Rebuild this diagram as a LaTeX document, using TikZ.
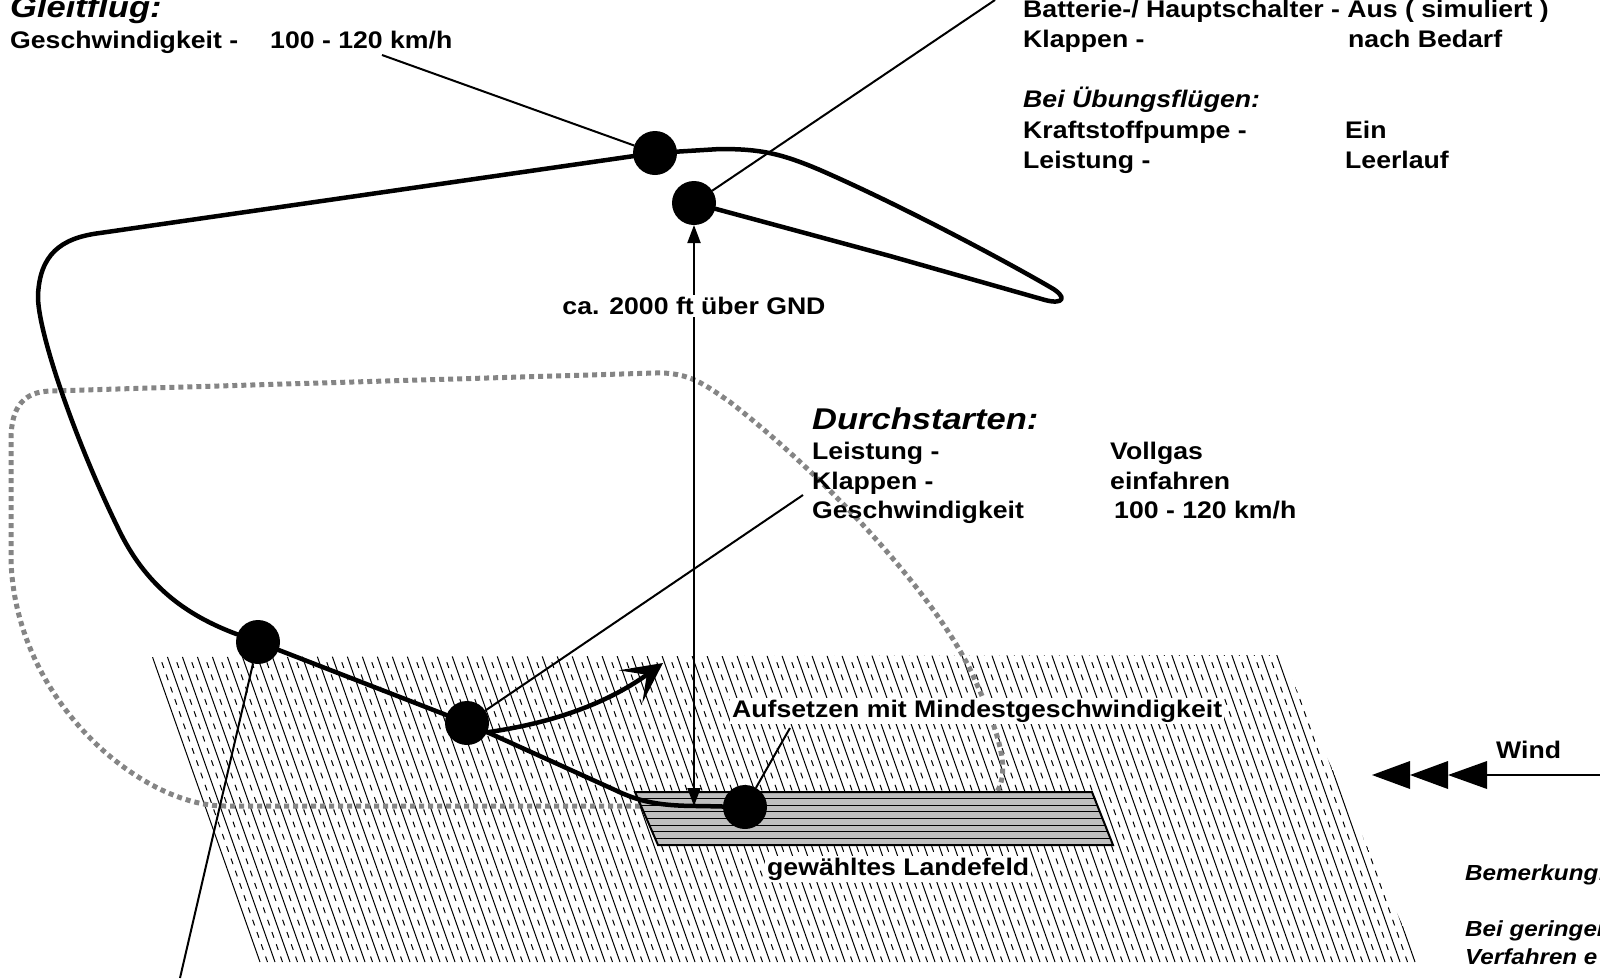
\documentclass[tikz,border=0pt]{standalone}
\usepackage{fontspec}
\setmainfont{Liberation Sans}[FakeStretch=1.11]
\newfontfamily\headfont{Liberation Sans}[FakeStretch=1.15]
\usetikzlibrary{arrows.meta}
\begin{document}
\begin{tikzpicture}[x=1pt,y=-1pt,
  dot/.style={circle,fill=black,minimum size=44pt,inner sep=0pt,outer sep=0pt},
  flight/.style={line width=4.5pt,line join=round,line cap=round},
  leader/.style={line width=2pt},
  txt/.style={font=\fontsize{24}{28}\selectfont\bfseries,inner sep=0pt,anchor=base west},
  itxt/.style={txt,font=\fontsize{24}{28}\selectfont\bfseries\itshape},
  remark/.style={txt,font=\fontsize{21.8}{26}\selectfont\bfseries\itshape},
  head/.style={txt,font=\headfont\fontsize{30}{34}\selectfont\bfseries\itshape},
  hatchsolid/.style={line width=1pt},
  hatchdash/.style={line width=1pt,dash pattern=on 6pt off 7pt},
  dotline/.style={draw=black!48,line width=5pt,dash pattern=on 5pt off 4pt},
  stripfill/.style={fill=black!25},
  stripline/.style={line width=1pt},
  whitebg/.style={fill=white,inner sep=2pt},
  tri/.style={fill=black}
]
\useasboundingbox (0,0) rectangle (1600,978);

% hatched ground
\begin{scope}
  \clip (152,657) -- (1281,655) -- (1419,962) -- (258,962) -- cycle;
  \foreach \x in {90,105,...,1440} {
    \draw[hatchsolid] (\x,650) -- ++(110,312);
    \draw[hatchdash] (\x+7.5,650) -- ++(110,312);
  }
\end{scope}

% dotted area
\draw[dotline] (640,806) -- (225,806) .. controls (140,806) and (15,700) .. (11,560)
  -- (11,440) .. controls (11,405) and (25,392) .. (50,391) -- (655,373)
  .. controls (690,372) and (705,385) .. (730,402)
  .. controls (830,480) and (940,600) .. (975,680)
  .. controls (1000,735) and (1010,770) .. (997,792);

% landing strip
\fill[stripfill] (635,792) -- (1092,792) -- (1113,845) -- (658,845) -- cycle;
\begin{scope}
  \clip (635,792) -- (1092,792) -- (1113,845) -- (658,845) -- cycle;
  \foreach \k in {1,...,7} {
    \draw[stripline] (600,792+6.6*\k) -- (1150,792+6.6*\k);
  }
\end{scope}
\draw[line width=2pt] (635,792) -- (1092,792) -- (1113,845) -- (658,845) -- cycle;

% dots
\node[dot] (A) at (655,153) {};
\node[dot] (B) at (694,203) {};
\node[dot] (C) at (258,642) {};
\node[dot] (D) at (467,723) {};
\node[dot] (E) at (745,807) {};

% free ends
\coordinate (glideend) at (382,55);
\coordinate (battend) at (995,0);
\coordinate (gaend) at (803,495);
\coordinate (cend) at (180,978);
\coordinate (eend) at (790,728);
\coordinate (ground) at (694,806);
\coordinate (gatip) at (663,663);
\coordinate (windstart) at (1600,775);
\coordinate (windend) at (1487,775);

% flight path
\draw[flight] (B) -- (890,256) -- (1045,300) .. controls (1064,305) and (1068,297) .. (1050,287)
  .. controls (1000,258) and (900,205) .. (820,170) .. controls (780,153) and (760,149) .. (720,149) -- (A);
\draw[flight] (A) -- (100,233) .. controls (60,238) and (40,255) .. (38,295)
  .. controls (37,330) and (75,440) .. (118,528) .. controls (145,585) and (185,615) .. (C);
\draw[flight] (C) -- (D);
\draw[flight] (D) -- (615,790) .. controls (640,802) and (660,806) .. (700,806) -- (E);
\draw[flight,-{Stealth[length=40pt,width=40pt,inset=20pt]}] (D.-25) .. controls (560,722) and (612,700) .. (gatip);

% leaders
\draw[leader] (glideend) -- (A);
\draw[leader] (B) -- (battend);
\draw[leader] (D) -- (gaend);
\draw[leader] (C) -- (cend);
\draw[leader] (E) -- (eend);
\draw[leader,{Triangle[length=18pt,width=13pt]}-{Triangle[length=18pt,width=13pt]}] (ground) -- (B);

% wind
\draw[line width=2.5pt] (windstart) -- (windend);
\fill[tri] (1487,761) -- (1448,775) -- (1487,789) -- cycle;
\fill[tri] (1448,761) -- (1410,775) -- (1448,789) -- cycle;
\fill[tri] (1410,761) -- (1372,775) -- (1410,789) -- cycle;

% texts
\node[head] (t1) at (10,17) {Gleitflug:};
\node[txt] (t2) at (10,48) {Geschwindigkeit -};
\node[txt] (t3) at (270,48) {100 - 120 km/h};

\node[txt] (r1) at (1023,17) {Batterie-/ Hauptschalter - Aus ( simuliert )};
\node[txt] (r2) at (1023,47) {Klappen -};
\node[txt] (r2b) at (1348,47) {nach Bedarf};
\node[itxt] (r3) at (1023,107) {Bei Übungsflügen:};
\node[txt] (r4) at (1023,138) {Kraftstoffpumpe -};
\node[txt] (r4b) at (1345,138) {Ein};
\node[txt] (r5) at (1023,168) {Leistung -};
\node[txt] (r5b) at (1345,168) {Leerlauf};

\node[txt,whitebg,anchor=center] (h) at (694,306) {ca. 2000 ft über GND};

\node[head] (d1) at (812,429) {Durchstarten:};
\node[txt] (d2) at (812,459) {Leistung -};
\node[txt] (d2b) at (1110,459) {Vollgas};
\node[txt] (d3) at (812,489) {Klappen -};
\node[txt] (d3b) at (1110,489) {einfahren};
\node[txt] (d4) at (812,518) {Geschwindigkeit};
\node[txt] (d4b) at (1114,518) {100 - 120 km/h};

\node[txt,whitebg] (auf) at (730,717) {Aufsetzen mit Mindestgeschwindigkeit};
\node[txt,whitebg] (lf) at (765,875) {gewähltes Landefeld};

\node[txt] (w) at (1496,758) {Wind};
\node[remark] (b1) at (1465,880) {Bemerkung:};
\node[remark] (b2) at (1465,936) {Bei geringer};
\node[remark] (b3) at (1465,964) {Verfahren e};
\end{tikzpicture}
\end{document}
